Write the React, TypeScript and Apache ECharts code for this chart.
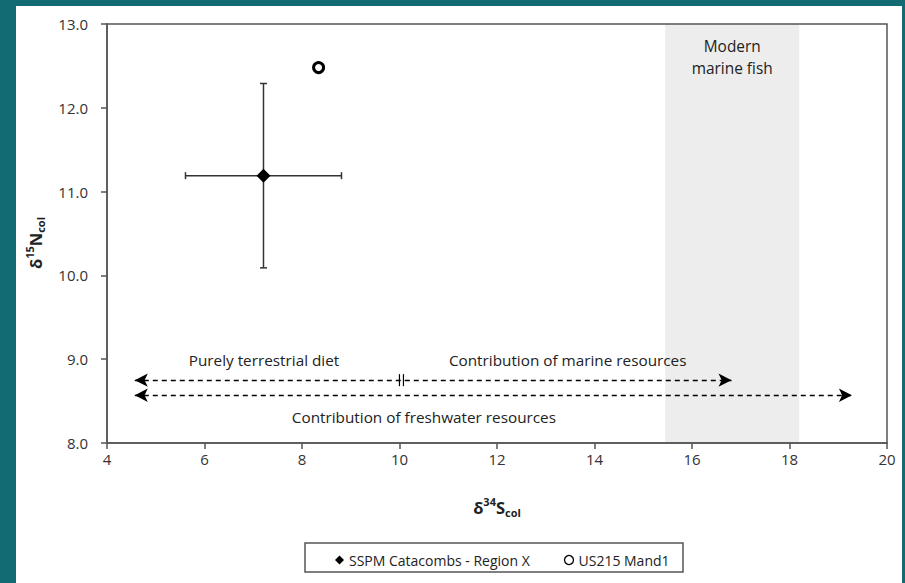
import React, { useEffect, useRef } from "react";
import * as echarts from "echarts";

// ---- data ----
const X_MIN = 4, X_MAX = 20, X_STEP = 2;
const Y_MIN = 8, Y_MAX = 13, Y_STEP = 1;

const sspmName = "SSPM Catacombs - Region X";
const sspmPoint = [7.21, 11.19];
const sspmError = [1.6, 1.1]; // [x ±, y ±]

const usName = "US215 Mand1";
const usPoint = [8.34, 12.48];

const fishBand = [15.45, 18.2];
const fishLabel = "Modern\nmarine fish";

// dashed arrows: [xStart, xEnd, y]
const marineArrow = [4.57, 16.81, 8.75];
const freshArrow = [4.57, 19.28, 8.57];
const breakMark = [10.04, 8.75];

// annotations: [x, y, text]
const annotations: [number, number, string][] = [
  [7.22, 8.99, "Purely terrestrial diet"],
  [13.45, 8.99, "Contribution of marine resources"],
  [10.5, 8.31, "Contribution of freshwater resources"],
];

const FONT = "'Open Sans', 'Noto Sans', sans-serif";

export default function App() {
  const ref = useRef<HTMLDivElement>(null);
  useEffect(() => {
    if (!ref.current) return;
    const chart = echarts.init(ref.current, null, { renderer: "svg" });
    const axisLineStyle = { color: "#555", width: 1.5 };
    const richBase = { fontFamily: FONT, fontWeight: "bold", fill: "#222", lineHeight: 22 };
    const rich = {
      a: { ...richBase, fontSize: 16.5, verticalAlign: "middle" },
      s: { ...richBase, fontSize: 11, verticalAlign: "top", padding: [0, 0, 6, 0] },
      b: { ...richBase, fontSize: 11, verticalAlign: "bottom", padding: [6, 0, 0, 0] },
    };
    const option: any = {
      animation: false,
      backgroundColor: "transparent",
      textStyle: { fontFamily: FONT },
      grid: {
        left: 107,
        top: 24,
        right: 18,
        bottom: 140,
        show: true,
        borderColor: "#555",
        borderWidth: 1.5,
        backgroundColor: "transparent",
      },
      xAxis: {
        type: "value",
        min: X_MIN,
        max: X_MAX,
        interval: X_STEP,
        splitLine: { show: false },
        axisLine: { show: true, lineStyle: axisLineStyle },
        axisTick: { show: true, length: 6, lineStyle: axisLineStyle },
        axisLabel: { color: "#333", fontSize: 15, fontFamily: FONT, margin: 8 },
      },
      yAxis: {
        type: "value",
        min: Y_MIN,
        max: Y_MAX,
        interval: Y_STEP,
        splitLine: { show: false },
        axisLine: { show: true, lineStyle: axisLineStyle },
        axisTick: { show: true, length: 6, lineStyle: axisLineStyle },
        axisLabel: {
          color: "#333",
          fontSize: 15,
          fontFamily: FONT,
          margin: 19,
          formatter: (v: number) => v.toFixed(1),
        },
      },
      legend: {
        left: 330,
        top: 548,
        itemWidth: 9,
        itemHeight: 9,
        itemGap: 34,
        textStyle: { color: "#222", fontSize: 14, fontFamily: FONT },
        data: [
          { name: sspmName, icon: "diamond", itemStyle: { color: "#000" } },
          {
            name: usName,
            icon: "circle",
            itemStyle: { color: "#fff", borderColor: "#000", borderWidth: 1.3 },
          },
        ],
      },
      graphic: [
        {
          type: "rect",
          shape: { x: 305, y: 543, width: 378, height: 29 },
          style: { fill: "none", stroke: "#555", lineWidth: 1.5 },
        },
        {
          type: "text",
          x: 497,
          y: 507,
          style: {
            text: "{a|δ}{s|34}{a|S}{b|col}",
            textAlign: "center",
            textVerticalAlign: "middle",
            rich,
          },
        },
        {
          type: "text",
          x: 35,
          y: 243,
          rotation: Math.PI / 2,
          style: {
            text: "{a|δ}{s|15}{a|N}{b|col}",
            textAlign: "center",
            textVerticalAlign: "middle",
            rich,
          },
        },
      ],
      series: [
        {
          type: "custom",
          name: "band",
          z: -1,
          silent: true,
          data: [[fishBand[0], fishBand[1]]],
          renderItem: (params: any, api: any) => {
            const p0 = api.coord([api.value(0), Y_MAX]);
            const p1 = api.coord([api.value(1), Y_MIN]);
            const cx = (p0[0] + p1[0]) / 2;
            return {
              type: "group",
              children: [
                {
                  type: "rect",
                  shape: { x: p0[0], y: p0[1], width: p1[0] - p0[0], height: p1[1] - p0[1] },
                  style: { fill: "#ededed" },
                },
                {
                  type: "text",
                  x: cx,
                  y: p0[1] + 11,
                  style: {
                    text: fishLabel,
                    fill: "#222",
                    font: `15.4px ${FONT}`,
                    lineHeight: 22,
                    textAlign: "center",
                    textVerticalAlign: "top",
                  },
                },
              ],
            };
          },
        },
        {
          type: "custom",
          name: "annotations",
          silent: true,
          data: annotations.map((a) => [a[0], a[1]]),
          renderItem: (params: any, api: any) => {
            const p = api.coord([api.value(0), api.value(1)]);
            return {
              type: "text",
              x: p[0],
              y: p[1],
              style: {
                text: annotations[params.dataIndex][2],
                fill: "#222",
                font: `15.3px ${FONT}`,
                textAlign: "center",
                textVerticalAlign: "middle",
              },
            };
          },
        },
        {
          type: "line",
          name: "arrows",
          silent: true,
          data: [],
          markLine: {
            silent: true,
            symbol: ["arrow", "arrow"],
            symbolSize: [10, 13],
            label: { show: false },
            lineStyle: { color: "#000", width: 1.3, type: [5, 4] },
            emphasis: { disabled: true },
            data: [
              [
                { coord: [marineArrow[0], marineArrow[2]] },
                { coord: [marineArrow[1], marineArrow[2]] },
              ],
              [
                { coord: [freshArrow[0], freshArrow[2]] },
                { coord: [freshArrow[1], freshArrow[2]] },
              ],
            ],
          },
        },
        {
          type: "custom",
          name: "break",
          silent: true,
          data: [breakMark],
          renderItem: (params: any, api: any) => {
            const p = api.coord([api.value(0), api.value(1)]);
            const mk = (dx: number) => ({
              type: "line",
              shape: { x1: p[0] + dx, y1: p[1] - 6, x2: p[0] + dx, y2: p[1] + 6 },
              style: { stroke: "#000", lineWidth: 1.2 },
            });
            return { type: "group", children: [mk(-2), mk(2)] };
          },
        },
        {
          type: "custom",
          name: "errorbars",
          silent: true,
          z: 3,
          data: [[sspmPoint[0], sspmPoint[1], sspmError[0], sspmError[1]]],
          renderItem: (params: any, api: any) => {
            const x = api.value(0), y = api.value(1), ex = api.value(2), ey = api.value(3);
            const l = api.coord([x - ex, y]);
            const r = api.coord([x + ex, y]);
            const t = api.coord([x, y + ey]);
            const b = api.coord([x, y - ey]);
            const st = { stroke: "#333", lineWidth: 1.5 };
            const c = 3.5;
            const ln = (x1: number, y1: number, x2: number, y2: number) => ({
              type: "line",
              shape: { x1, y1, x2, y2 },
              style: st,
            });
            return {
              type: "group",
              children: [
                ln(l[0], l[1], r[0], r[1]),
                ln(l[0], l[1] - c, l[0], l[1] + c),
                ln(r[0], r[1] - c, r[0], r[1] + c),
                ln(t[0], t[1], b[0], b[1]),
                ln(t[0] - c, t[1], t[0] + c, t[1]),
                ln(b[0] - c, b[1], b[0] + c, b[1]),
              ],
            };
          },
        },
        {
          type: "scatter",
          name: sspmName,
          z: 5,
          symbol: "diamond",
          symbolSize: 14,
          itemStyle: { color: "#000", opacity: 1 },
          data: [sspmPoint],
        },
        {
          type: "scatter",
          name: usName,
          z: 5,
          symbol: "circle",
          symbolSize: 10,
          itemStyle: { color: "#fff", borderColor: "#000", borderWidth: 3, opacity: 1 },
          data: [usPoint],
        },
      ],
    };
    chart.setOption(option);
    return () => chart.dispose();
  }, []);

  return (
    <div style={{ position: "fixed", left: 0, top: 0, width: 905, height: 583, background: "#126b73" }}>
      <div style={{ position: "absolute", left: 16, top: 6, width: 886, height: 577, background: "#fff" }} />
      <div ref={ref} style={{ position: "absolute", left: 0, top: 0, width: 905, height: 583 }} />
    </div>
  );
}
